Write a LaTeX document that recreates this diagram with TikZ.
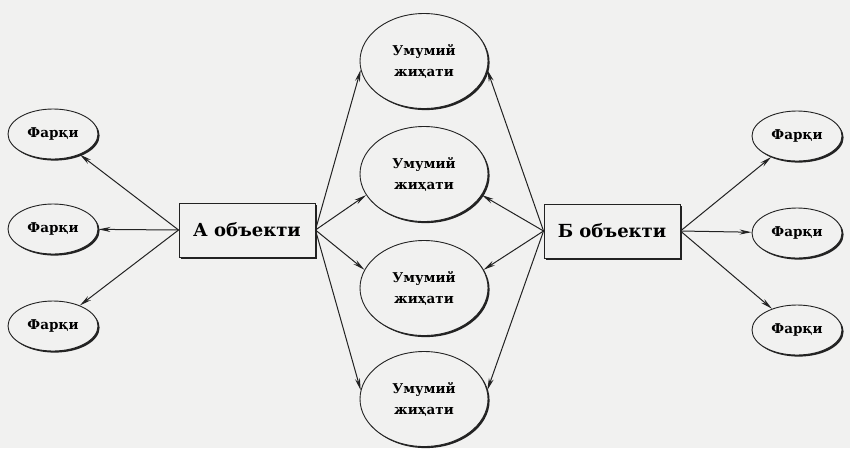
\documentclass[tikz,border=0pt]{standalone}
\usepackage{fontspec}
\setmainfont{DejaVu Serif}
\usetikzlibrary{shapes.geometric,arrows.meta,shadows}
\definecolor{paper}{HTML}{F1F1F0}
\definecolor{ink}{HTML}{222222}
\tikzset{
  shad/.style={drop shadow={shadow xshift=1.6pt,shadow yshift=-1.6pt,fill=ink,opacity=1}},
  diff/.style={ellipse,draw=ink,line width=0.9pt,fill=paper,minimum width=90pt,minimum height=50pt,inner sep=0pt,shad,font=\fontsize{13.5}{15}\selectfont\bfseries},
  common/.style={ellipse,draw=ink,line width=0.9pt,fill=paper,minimum width=128pt,minimum height=95pt,inner sep=0pt,shad,align=center,font=\fontsize{13.5}{21}\selectfont\bfseries},
  objbox/.style={rectangle,draw=ink,line width=0.9pt,fill=paper,minimum width=136pt,minimum height=54pt,inner sep=0pt,shad,font=\fontsize{18}{20}\selectfont\bfseries},
  arr/.style={draw=ink,line width=1pt,-{Stealth[length=12pt,width=5pt]}}
}
\begin{document}
\begin{tikzpicture}[x=1pt,y=-1pt]
\fill[paper] (0,0) rectangle (850,448);
\useasboundingbox (0,0) rectangle (850,448);
\node[objbox] (A) at (247,230) {А объекти};
\node[objbox] (B) at (612,231) {Б объекти};
\node[diff] (f1) at (53,134) {Фарқи};
\node[diff] (f2) at (53,229) {Фарқи};
\node[diff] (f3) at (53,326) {Фарқи};
\node[diff] (g1) at (797,136) {Фарқи};
\node[diff] (g2) at (797,233) {Фарқи};
\node[diff] (g3) at (797,330) {Фарқи};
\node[common] (c1) at (424,61) {Умумий\\жиҳати};
\node[common] (c2) at (424,174) {Умумий\\жиҳати};
\node[common] (c3) at (424,288) {Умумий\\жиҳати};
\node[common] (c4) at (424,399) {Умумий\\жиҳати};
\coordinate (Aw) at (A.west);
\coordinate (Ae) at (A.east);
\coordinate (Bw) at (B.west);
\coordinate (Be) at (B.east);
\draw[arr] (Aw) -- (f1);
\draw[arr] (Aw) -- (f2);
\draw[arr] (Aw) -- (f3);
\draw[arr] (Be) -- (g1);
\draw[arr] (Be) -- (g2);
\draw[arr] (Be) -- (g3);
\draw[arr] (Ae) -- (c1.188);
\draw[arr] (Ae) -- (c2.200);
\draw[arr] (Ae) -- (c3.163);
\draw[arr] (Ae) -- (c4.172);
\draw[arr] (Bw) -- (c1.352);
\draw[arr] (Bw) -- (c2.340);
\draw[arr] (Bw) -- (c3.17);
\draw[arr] (Bw) -- (c4.8);
\end{tikzpicture}
\end{document}
